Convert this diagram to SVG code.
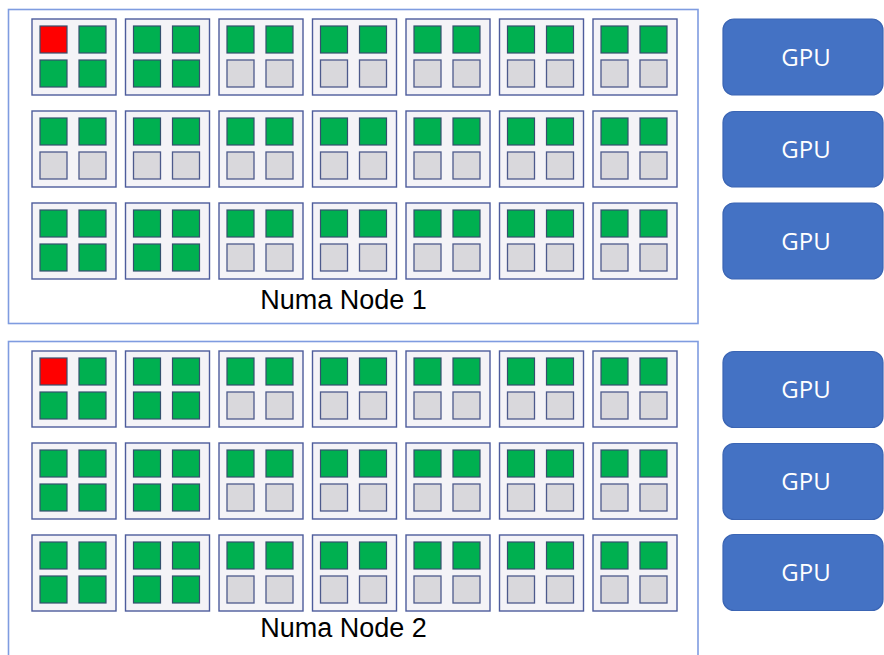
<svg xmlns="http://www.w3.org/2000/svg" xmlns:xlink="http://www.w3.org/1999/xlink" width="884" height="655" viewBox="0 0 884 655">
  <style>
    .numa { fill: #ffffff; stroke: #7f9ce0; stroke-width: 1.6; }
    .blk { fill: #f4f3f7; stroke: #4d5c9c; stroke-width: 1.4; }
    .core { stroke: #34506e; stroke-width: 1.2; }
    .busy { fill: #00b050; }
    .main { fill: #ff0000; }
    .idle { fill: #d9d8dc; stroke: #4d5a8c; stroke-width: 1.3; }
    .gpu { fill: #4472c4; stroke: #3b65b4; stroke-width: 1.2; }
    .gpu-label { font-family: "Open Sans", "Noto Sans", sans-serif; font-size: 24px; fill: #ffffff; text-anchor: middle; }
    .numa-label { font-family: "Liberation Sans", Arial, sans-serif; font-size: 27px; fill: #000000; text-anchor: middle; }
  </style>
  <defs>
    <!-- CPU block: four cores, top pair busy, bottom pair idle -->
    <g id="blk-half">
      <rect class="blk" x="0" y="0" width="84" height="76"/>
      <rect class="core busy" x="8" y="7" width="27" height="27"/>
      <rect class="core busy" x="47" y="7" width="27" height="27"/>
      <rect class="idle" x="8" y="41" width="27" height="27"/>
      <rect class="idle" x="47" y="41" width="27" height="27"/>
    </g>
    <!-- CPU block: all four cores busy -->
    <g id="blk-full">
      <rect class="blk" x="0" y="0" width="84" height="76"/>
      <rect class="core busy" x="8" y="7" width="27" height="27"/>
      <rect class="core busy" x="47" y="7" width="27" height="27"/>
      <rect class="core busy" x="8" y="41" width="27" height="27"/>
      <rect class="core busy" x="47" y="41" width="27" height="27"/>
    </g>
    <!-- CPU block with the main core highlighted -->
    <g id="blk-main">
      <rect class="blk" x="0" y="0" width="84" height="76"/>
      <rect class="core main" x="8" y="7" width="27" height="27"/>
      <rect class="core busy" x="47" y="7" width="27" height="27"/>
      <rect class="core busy" x="8" y="41" width="27" height="27"/>
      <rect class="core busy" x="47" y="41" width="27" height="27"/>
    </g>
  </defs>

  <rect width="884" height="655" fill="#ffffff"/>

  <!-- NUMA node 1 -->
  <g id="numa1">
    <rect class="numa" x="8.5" y="9.5" width="689.5" height="314"/>
    <g id="numa1-row1">
      <use id="n1-r1-b1" href="#blk-main" xlink:href="#blk-main" x="32" y="19"/>
      <use id="n1-r1-b2" href="#blk-full" xlink:href="#blk-full" x="125.5" y="19"/>
      <use id="n1-r1-b3" href="#blk-half" xlink:href="#blk-half" x="219" y="19"/>
      <use id="n1-r1-b4" href="#blk-half" xlink:href="#blk-half" x="312.5" y="19"/>
      <use id="n1-r1-b5" href="#blk-half" xlink:href="#blk-half" x="406" y="19"/>
      <use id="n1-r1-b6" href="#blk-half" xlink:href="#blk-half" x="499.5" y="19"/>
      <use id="n1-r1-b7" href="#blk-half" xlink:href="#blk-half" x="593" y="19"/>
    </g>
    <g id="numa1-row2">
      <use id="n1-r2-b1" href="#blk-half" xlink:href="#blk-half" x="32" y="111"/>
      <use id="n1-r2-b2" href="#blk-half" xlink:href="#blk-half" x="125.5" y="111"/>
      <use id="n1-r2-b3" href="#blk-half" xlink:href="#blk-half" x="219" y="111"/>
      <use id="n1-r2-b4" href="#blk-half" xlink:href="#blk-half" x="312.5" y="111"/>
      <use id="n1-r2-b5" href="#blk-half" xlink:href="#blk-half" x="406" y="111"/>
      <use id="n1-r2-b6" href="#blk-half" xlink:href="#blk-half" x="499.5" y="111"/>
      <use id="n1-r2-b7" href="#blk-half" xlink:href="#blk-half" x="593" y="111"/>
    </g>
    <g id="numa1-row3">
      <use id="n1-r3-b1" href="#blk-full" xlink:href="#blk-full" x="32" y="203"/>
      <use id="n1-r3-b2" href="#blk-full" xlink:href="#blk-full" x="125.5" y="203"/>
      <use id="n1-r3-b3" href="#blk-half" xlink:href="#blk-half" x="219" y="203"/>
      <use id="n1-r3-b4" href="#blk-half" xlink:href="#blk-half" x="312.5" y="203"/>
      <use id="n1-r3-b5" href="#blk-half" xlink:href="#blk-half" x="406" y="203"/>
      <use id="n1-r3-b6" href="#blk-half" xlink:href="#blk-half" x="499.5" y="203"/>
      <use id="n1-r3-b7" href="#blk-half" xlink:href="#blk-half" x="593" y="203"/>
    </g>
    <text class="numa-label" x="343.5" y="308.5">Numa Node 1</text>
  </g>

  <!-- NUMA node 2 -->
  <g id="numa2">
    <rect class="numa" x="8.5" y="341.5" width="689.5" height="330"/>
    <g id="numa2-row1">
      <use id="n2-r1-b1" href="#blk-main" xlink:href="#blk-main" x="32" y="351"/>
      <use id="n2-r1-b2" href="#blk-full" xlink:href="#blk-full" x="125.5" y="351"/>
      <use id="n2-r1-b3" href="#blk-half" xlink:href="#blk-half" x="219" y="351"/>
      <use id="n2-r1-b4" href="#blk-half" xlink:href="#blk-half" x="312.5" y="351"/>
      <use id="n2-r1-b5" href="#blk-half" xlink:href="#blk-half" x="406" y="351"/>
      <use id="n2-r1-b6" href="#blk-half" xlink:href="#blk-half" x="499.5" y="351"/>
      <use id="n2-r1-b7" href="#blk-half" xlink:href="#blk-half" x="593" y="351"/>
    </g>
    <g id="numa2-row2">
      <use id="n2-r2-b1" href="#blk-full" xlink:href="#blk-full" x="32" y="443"/>
      <use id="n2-r2-b2" href="#blk-full" xlink:href="#blk-full" x="125.5" y="443"/>
      <use id="n2-r2-b3" href="#blk-half" xlink:href="#blk-half" x="219" y="443"/>
      <use id="n2-r2-b4" href="#blk-half" xlink:href="#blk-half" x="312.5" y="443"/>
      <use id="n2-r2-b5" href="#blk-half" xlink:href="#blk-half" x="406" y="443"/>
      <use id="n2-r2-b6" href="#blk-half" xlink:href="#blk-half" x="499.5" y="443"/>
      <use id="n2-r2-b7" href="#blk-half" xlink:href="#blk-half" x="593" y="443"/>
    </g>
    <g id="numa2-row3">
      <use id="n2-r3-b1" href="#blk-full" xlink:href="#blk-full" x="32" y="535"/>
      <use id="n2-r3-b2" href="#blk-full" xlink:href="#blk-full" x="125.5" y="535"/>
      <use id="n2-r3-b3" href="#blk-half" xlink:href="#blk-half" x="219" y="535"/>
      <use id="n2-r3-b4" href="#blk-half" xlink:href="#blk-half" x="312.5" y="535"/>
      <use id="n2-r3-b5" href="#blk-half" xlink:href="#blk-half" x="406" y="535"/>
      <use id="n2-r3-b6" href="#blk-half" xlink:href="#blk-half" x="499.5" y="535"/>
      <use id="n2-r3-b7" href="#blk-half" xlink:href="#blk-half" x="593" y="535"/>
    </g>
    <text class="numa-label" x="343.5" y="637">Numa Node 2</text>
  </g>

  <!-- GPUs -->
  <g id="gpu1"><rect class="gpu" x="723" y="19" width="160" height="76" rx="11"/><text class="gpu-label" x="806" y="65.5">GPU</text></g>
  <g id="gpu2"><rect class="gpu" x="723" y="111.5" width="160" height="75.5" rx="11"/><text class="gpu-label" x="806" y="158">GPU</text></g>
  <g id="gpu3"><rect class="gpu" x="723" y="203" width="160" height="76" rx="11"/><text class="gpu-label" x="806" y="249.5">GPU</text></g>
  <g id="gpu4"><rect class="gpu" x="723" y="351.5" width="160" height="76" rx="11"/><text class="gpu-label" x="806" y="398">GPU</text></g>
  <g id="gpu5"><rect class="gpu" x="723" y="443.5" width="160" height="76" rx="11"/><text class="gpu-label" x="806" y="490">GPU</text></g>
  <g id="gpu6"><rect class="gpu" x="723" y="534.5" width="160" height="76" rx="11"/><text class="gpu-label" x="806" y="581">GPU</text></g>
</svg>
